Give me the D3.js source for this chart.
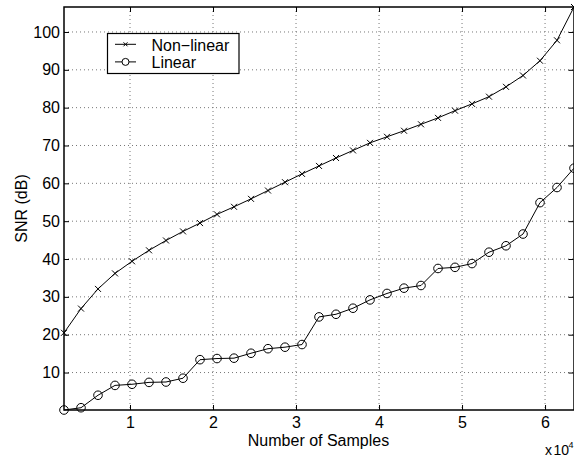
<!DOCTYPE html>
<html><head><meta charset="utf-8">
<script src="https://cdn.jsdelivr.net/npm/d3@7"></script>
<style>
html,body{margin:0;padding:0;background:#fff;overflow:hidden}
text{font-family:"Liberation Sans",Arial,Helvetica,sans-serif;fill:#000}
</style></head><body>
<svg id="chart" width="574" height="457"></svg>
<script>
const samples = [2048,4096,6144,8192,10240,12288,14336,16384,18432,20480,22528,24576,26624,28672,30720,32768,34816,36864,38912,40960,43008,45056,47104,49152,51200,53248,55296,57344,59392,61440,63488];
const nonLinear = [20.5,26.9,32.1,36.2,39.4,42.3,44.9,47.3,49.5,51.8,53.8,55.9,58.1,60.3,62.5,64.6,66.7,68.7,70.7,72.3,73.9,75.6,77.3,79.2,81.0,82.9,85.5,88.5,92.4,97.8,106.6];
const linear = [0.1,0.7,4.0,6.6,6.9,7.4,7.5,8.5,13.4,13.7,13.8,15.1,16.3,16.7,17.4,24.7,25.4,27.0,29.2,30.9,32.3,33.0,37.5,37.8,38.8,41.8,43.5,46.6,54.9,58.9,64.0];
const xTicks = [10000,20000,30000,40000,50000,60000];
const xTickLabels = ["1","2","3","4","5","6"];
const yTicks = [10,20,30,40,50,60,70,80,90,100];
const seriesNames = ["Non\u2212linear","Linear"];

const svg = d3.select("#chart");
const L=64, T=7, R=574, B=410;
const x = d3.scaleLinear().domain(d3.extent(samples)).range([L,R]);
const y = d3.scaleLinear().domain(d3.extent(linear.concat(nonLinear))).range([B,T]);

// grid
const g = svg.append("g");
g.selectAll(".gx").data(xTicks).enter().append("line")
 .attr("x1",d=>x(d)).attr("x2",d=>x(d)).attr("y1",T).attr("y2",B)
 .attr("stroke","#777").attr("stroke-width",1).attr("stroke-dasharray","1,3");
g.selectAll(".gy").data(yTicks).enter().append("line")
 .attr("x1",L).attr("x2",R).attr("y1",d=>y(d)).attr("y2",d=>y(d))
 .attr("stroke","#777").attr("stroke-width",1).attr("stroke-dasharray","1,3");

// axes (inward ticks)
const fs = 16;
const xAxis = d3.axisBottom(x).tickValues(xTicks).tickSizeInner(-5).tickSizeOuter(0).tickPadding(7)
  .tickFormat((d,i)=>xTickLabels[i]);
svg.append("g").attr("transform",`translate(0,${B})`).call(xAxis);
const yAxis = d3.axisLeft(y).tickValues(yTicks).tickSizeInner(-5).tickSizeOuter(0).tickPadding(4);
svg.append("g").attr("transform",`translate(${L},0)`).call(yAxis);
const xTop = d3.axisTop(x).tickValues(xTicks).tickSizeInner(-5).tickSizeOuter(0).tickFormat("");
svg.append("g").attr("transform",`translate(0,${T})`).call(xTop);
const yRight = d3.axisRight(y).tickValues(yTicks).tickSizeInner(-5).tickSizeOuter(0).tickFormat("");
svg.append("g").attr("transform",`translate(${R-0.5},0)`).call(yRight);
svg.selectAll(".domain").remove();
svg.selectAll(".tick line").attr("stroke","#000").attr("stroke-width",1);
svg.selectAll(".tick text").attr("font-size",fs).attr("font-family","Liberation Sans, Arial, sans-serif");
// box
svg.append("rect").attr("x",L).attr("y",T).attr("width",R-L).attr("height",B-T)
 .attr("fill","none").attr("stroke","#000").attr("stroke-width",1.5);

// lines
const line = d3.line().x((d,i)=>x(samples[i])).y(d=>y(d));
svg.append("path").datum(nonLinear).attr("d",line).attr("fill","none").attr("stroke","#000").attr("stroke-width",1);
svg.append("path").datum(linear).attr("d",line).attr("fill","none").attr("stroke","#000").attr("stroke-width",1);
const cs = 3;
svg.selectAll(".xm").data(nonLinear).enter().append("path")
 .attr("transform",(d,i)=>`translate(${x(samples[i])},${y(d)})`)
 .attr("d",`M${-cs},${-cs}L${cs},${cs}M${-cs},${cs}L${cs},${-cs}`)
 .attr("stroke","#000").attr("stroke-width",1).attr("fill","none");
svg.selectAll(".om").data(linear).enter().append("circle")
 .attr("cx",(d,i)=>x(samples[i])).attr("cy",d=>y(d)).attr("r",4.3)
 .attr("fill","none").attr("stroke","#000").attr("stroke-width",1);

// labels
svg.append("text").attr("x",(L+R)/2 - 0.5).attr("y",445.5).attr("text-anchor","middle").attr("font-size",fs).text("Number of Samples");
svg.append("text").attr("transform",`translate(26.5,${(T+B)/2}) rotate(-90)`).attr("text-anchor","middle").attr("font-size",fs).text("SNR (dB)");
const ex = svg.append("text").attr("y",455).attr("font-size",14);
ex.append("tspan").attr("x",545).text("x");
ex.append("tspan").attr("x",553.5).text("10");
ex.append("tspan").attr("x",568.5).attr("dy",-7).attr("font-size",9).text("4");

// legend
const lg = svg.append("g");
lg.append("rect").attr("x",107.5).attr("y",33.5).attr("width",131.5).attr("height",40)
 .attr("fill","#fff").attr("stroke","#000").attr("stroke-width",1.2);
const rows = [44.3, 61.9];
rows.forEach((ry,i)=>{
  lg.append("line").attr("x1",115).attr("x2",136).attr("y1",ry).attr("y2",ry).attr("stroke","#000");
  if(i===0){
    lg.append("path").attr("transform",`translate(125.5,${ry})`).attr("d",`M${-2},${-2}L2,2M-2,2L2,-2`).attr("stroke","#000").attr("fill","none");
  } else {
    lg.append("circle").attr("cx",125.5).attr("cy",ry).attr("r",3.5).attr("fill","#fff").attr("stroke","#000");
  }
  lg.append("text").attr("x",151.5).attr("y",ry+6.3).attr("font-size",fs).text(seriesNames[i]);
});
</script></body></html>
